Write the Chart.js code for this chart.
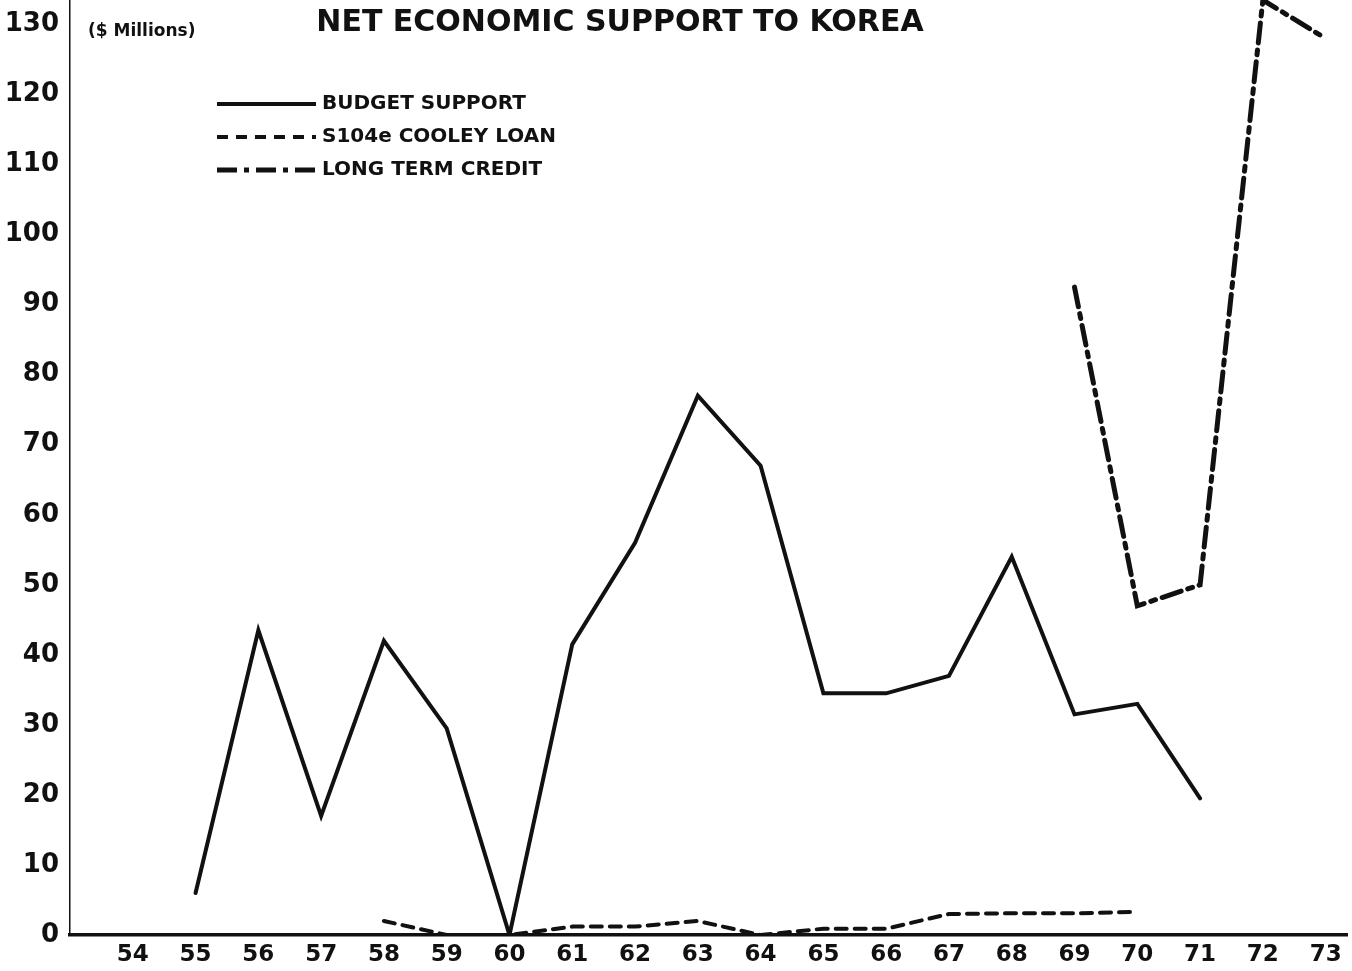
<!DOCTYPE html>
<html>
<head>
<meta charset="utf-8">
<script src="https://cdn.jsdelivr.net/npm/chart.js@4.4.1/dist/chart.umd.min.js"></script>
<style>
  html, body { margin: 0; padding: 0; background: #fff; }
  #wrap { width: 1352px; height: 971px; }
</style>
</head>
<body>
<div id="wrap"><canvas id="supportChart"></canvas></div>
<script>
// data ($ millions)
const yearTicks = [54, 55, 56, 57, 58, 59, 60, 61, 62, 63, 64, 65, 66, 67, 68, 69, 70, 71, 72, 73];
const valueTicks = [0, 10, 20, 30, 40, 50, 60, 70, 80, 90, 100, 110, 120, 130];

const budgetYears = [55, 56, 57, 58, 59, 60, 61, 62, 63, 64, 65, 66, 67, 68, 69, 70, 71];
const budgetValues = [6, 43.5, 17, 42, 29.5, 0, 41.5, 56, 77, 67, 34.5, 34.5, 37, 54, 31.5, 33, 19.5];

const cooleyYears = [58, 59, 60, 61, 62, 63, 64, 65, 66, 67, 68, 69, 70];
const cooleyValues = [2, 0, 0, 1.2, 1.2, 2, 0, 0.9, 0.9, 3, 3.1, 3.1, 3.3];

const creditYears = [69, 70, 71, 72, 73];
const creditValues = [92.5, 47, 50, 133.5, 128];

const seriesNames = ['BUDGET SUPPORT', 'S104e COOLEY LOAN', 'LONG TERM CREDIT'];
const seriesDashes = [[], [11, 8], [20, 7, 5, 7]];
const seriesWidths = [4, 4, 5];

const ink = '#111';
const titleText = 'NET ECONOMIC SUPPORT TO KOREA';
const unitText = '($ Millions)';

const toPoints = (xs, ys) => xs.map((x, i) => ({ x: x, y: ys[i] }));

const paperBg = {
  id: 'paperBg',
  beforeDraw(chart) {
    const c = chart.ctx;
    c.save();
    c.fillStyle = '#fff';
    c.fillRect(0, 0, chart.width, chart.height);
    c.restore();
  }
};

// title, unit note and the hand-placed key inside the plot
const notes = {
  id: 'notes',
  afterDraw(chart) {
    const c = chart.ctx;
    const area = chart.chartArea;
    c.save();
    c.fillStyle = ink;
    c.textBaseline = 'middle';

    c.font = 'bold 30px "DejaVu Sans"';
    c.textAlign = 'center';
    c.fillText(titleText, 620, 23);

    c.font = 'bold 17px "DejaVu Sans"';
    c.textAlign = 'left';
    c.fillText(unitText, area.left + 18, 32);

    c.font = 'bold 20px "DejaVu Sans"';
    const keyY = [104, 137, 170];
    seriesNames.forEach((name, i) => {
      c.strokeStyle = ink;
      c.lineWidth = seriesWidths[i];
      c.setLineDash(seriesDashes[i]);
      c.beginPath();
      c.moveTo(217, keyY[i]);
      c.lineTo(316, keyY[i]);
      c.stroke();
      c.setLineDash([]);
      c.fillText(name, 322, keyY[i]);
    });
    c.restore();
  }
};

const lineSet = (label, pts, i) => ({
  label: label,
  data: pts,
  borderColor: ink,
  borderWidth: seriesWidths[i],
  borderDash: seriesDashes[i],
  borderCapStyle: 'round',
  borderJoinStyle: 'miter',
  pointRadius: 0,
  tension: 0,
  fill: false
});

const ctx = document.getElementById('supportChart');
new Chart(ctx, {
  type: 'line',
  data: {
    datasets: [
      lineSet(seriesNames[0], toPoints(budgetYears, budgetValues), 0),
      lineSet(seriesNames[1], toPoints(cooleyYears, cooleyValues), 1),
      lineSet(seriesNames[2], toPoints(creditYears, creditValues), 2)
    ]
  },
  options: {
    responsive: true,
    maintainAspectRatio: false,
    animation: false,
    layout: { padding: { top: 0, right: 5, bottom: 0, left: 0 } },
    plugins: {
      legend: { display: false },
      title: { display: false },
      tooltip: { enabled: false }
    },
    scales: {
      x: {
        type: 'linear',
        min: 53,
        max: 73.34,
        grid: { display: false, drawTicks: false },
        border: { display: true, color: ink, width: 3.5 },
        afterBuildTicks: (scale) => { scale.ticks = yearTicks.map(v => ({ value: v })); },
        afterFit: (scale) => { scale.height = 36; scale.paddingLeft = 0; scale.paddingRight = 0; },
        ticks: {
          color: ink,
          padding: 6,
          maxRotation: 0,
          autoSkip: false,
          font: { family: 'DejaVu Sans', weight: 'bold', size: 23 },
          callback: (v) => String(v)
        }
      },
      y: {
        min: 0,
        max: 133.5,
        grid: { display: false, drawTicks: false },
        border: { display: true, color: ink, width: 1.5 },
        afterBuildTicks: (scale) => { scale.ticks = valueTicks.map(v => ({ value: v })); },
        afterFit: (scale) => { scale.width = 70; scale.paddingTop = 0; scale.paddingBottom = 0; },
        ticks: {
          color: ink,
          padding: 11,
          font: { family: 'DejaVu Sans', weight: 'bold', size: 26 },
          callback: (v) => String(v)
        }
      }
    }
  },
  plugins: [paperBg, notes]
});
</script>
</body>
</html>
